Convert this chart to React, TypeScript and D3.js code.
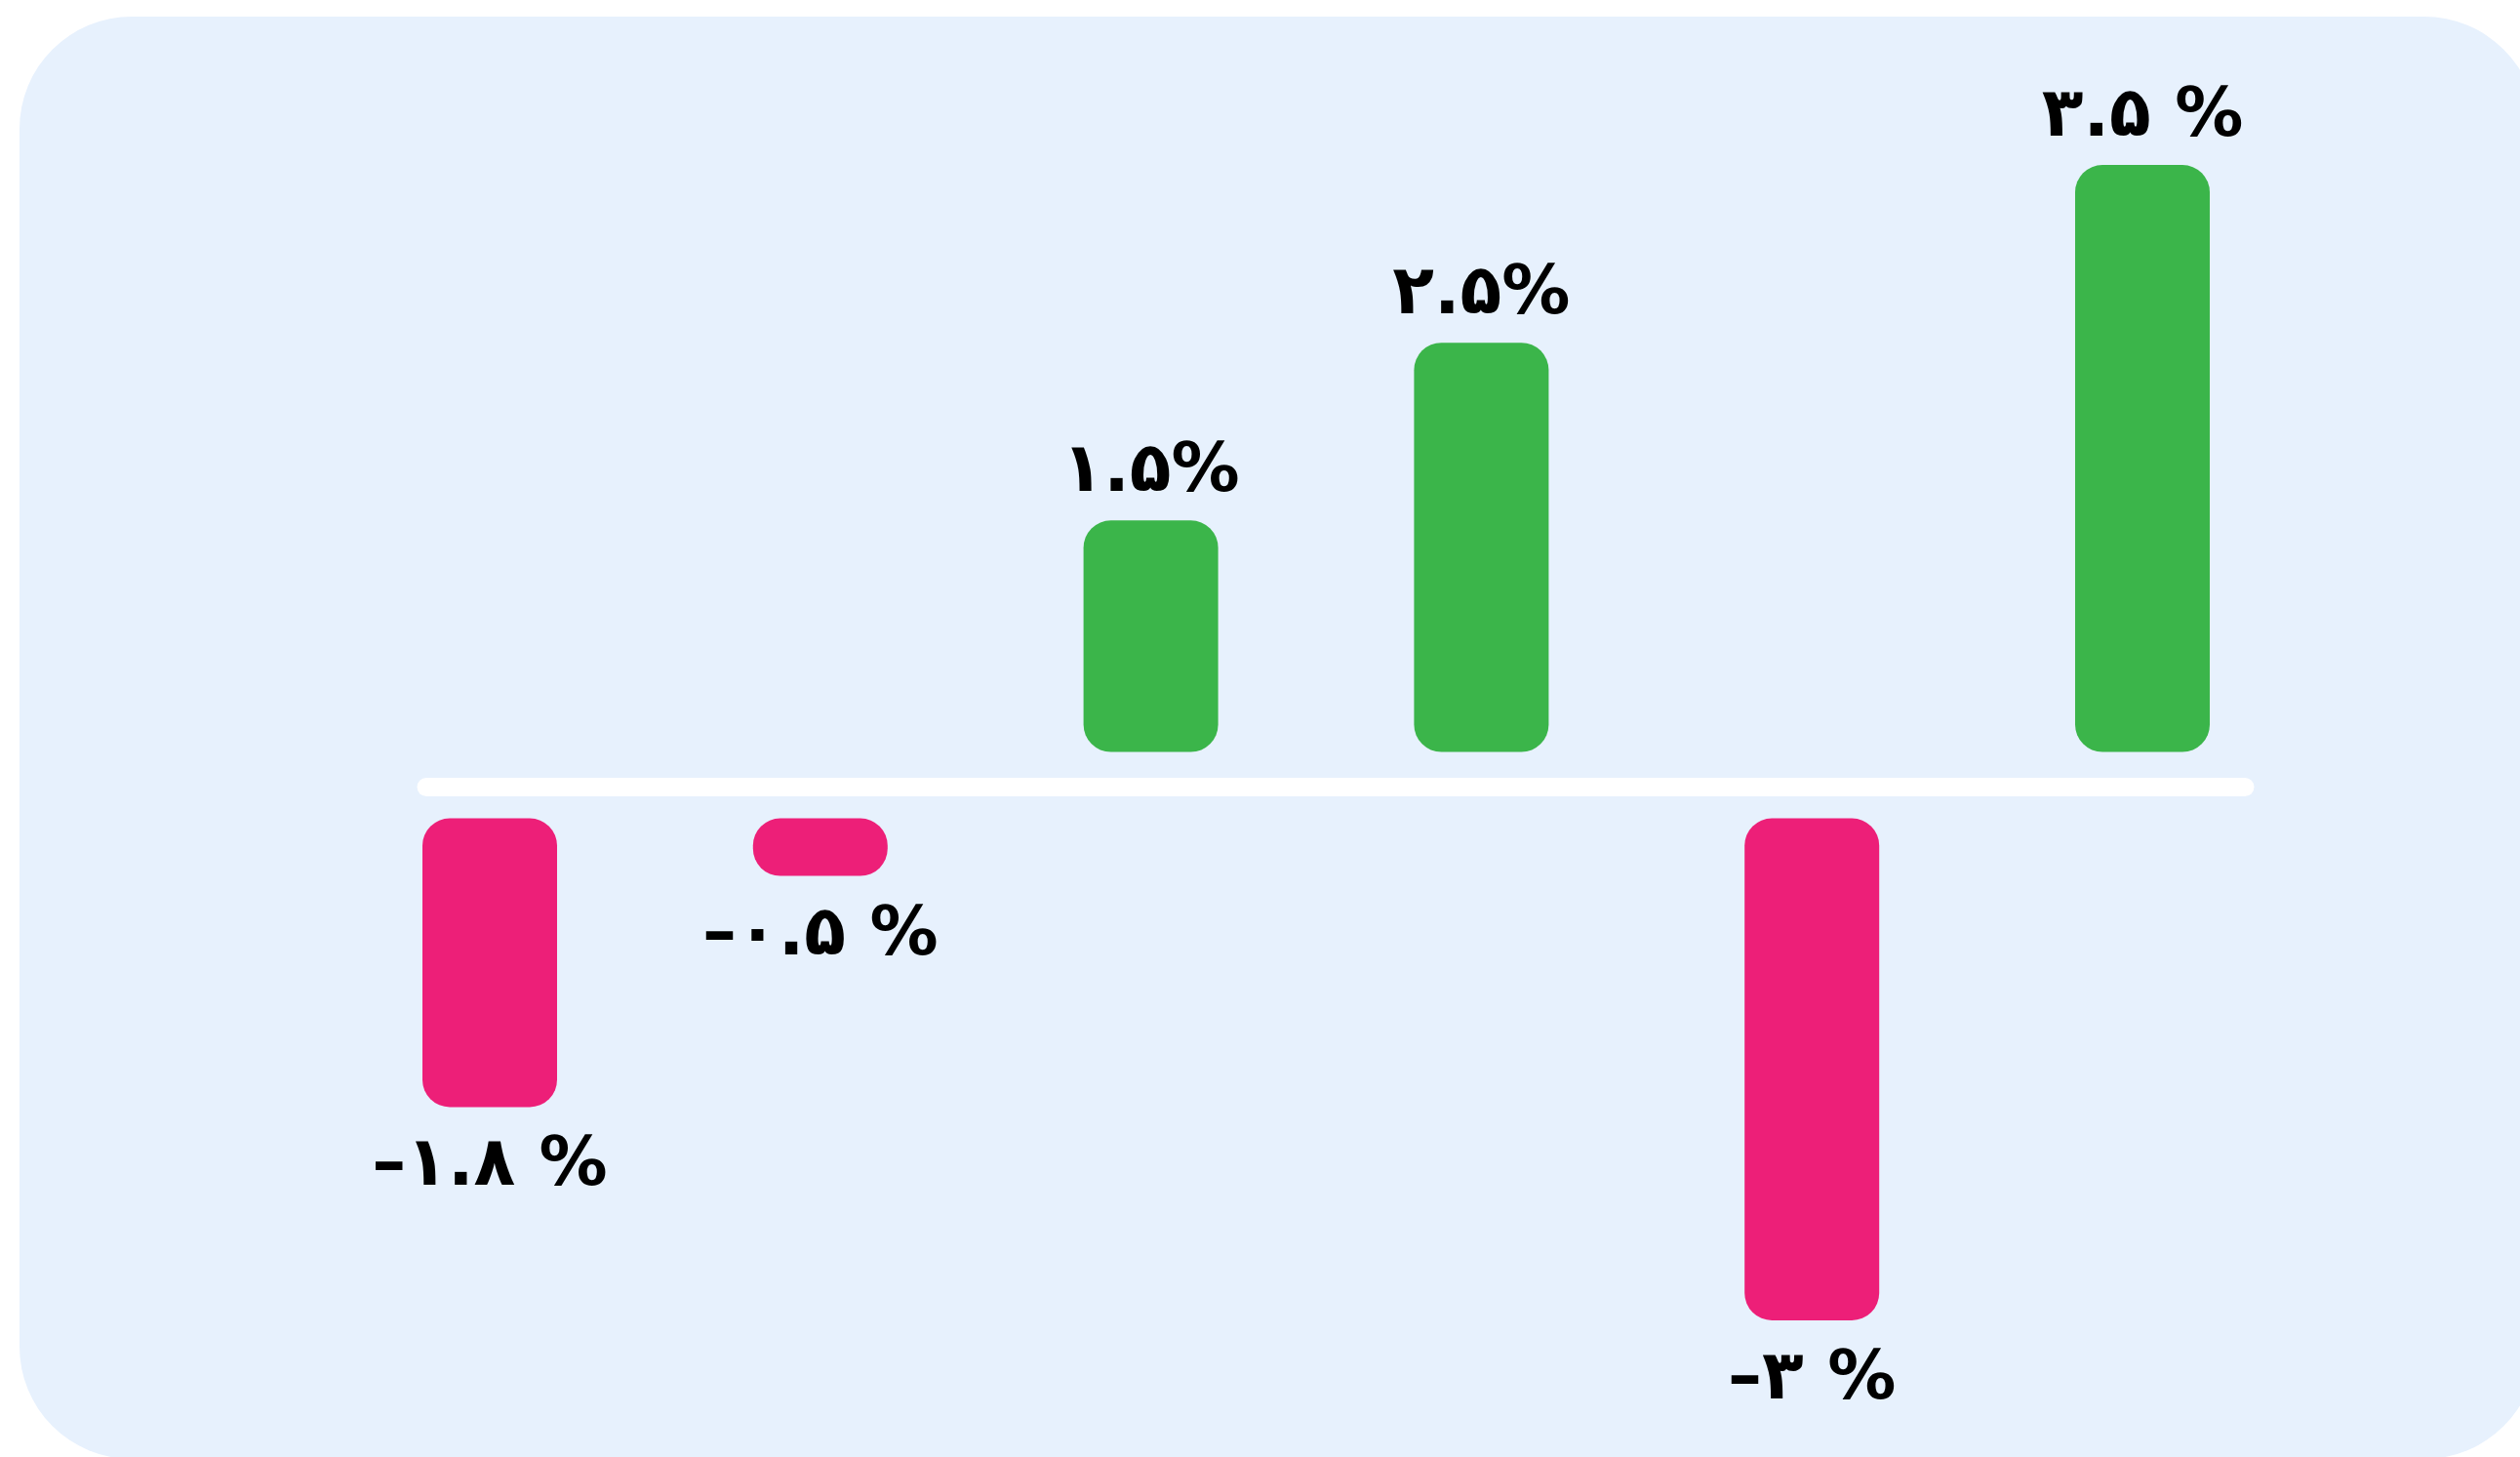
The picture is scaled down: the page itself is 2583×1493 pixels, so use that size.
import * as d3 from "d3";

const width = 2583, height = 1493;

// values
const categories = ["a", "b", "c", "d", "e", "f"];
const values = [-1.8, -0.5, 1.5, 2.5, -3, 3.5];
const labels = ["–۱.۸ %", "–۰.۵ %", "۱.۵%", "۲.۵%", "–۳ %", "۳.۵ %"];

const green = "#3BB54A", pink = "#ED1F78", card = "#E7F1FD";

const x = d3.scaleBand()
  .domain(categories)
  .range([433, 2265])
  .paddingInner(0.5927)
  .paddingOuter(0);

const y = d3.scaleLinear()
  .domain([-3, 3.5])
  .range([813 + 3 * 180, 813 - 3.5 * 184]);

const gapUp = 36, gapDown = 32;

const App = () => {
  const y0 = y(0);
  const bw = x.bandwidth();
  return (
    <svg width={width} height={height} viewBox={`0 0 ${width} ${height}`}
      style={{ position: "absolute", left: 0, top: 0, background: "#fff" }}>
      <rect x={20} y={17} width={2580} height={1478} rx={115} fill={card} />
      <line x1={x(categories[0])! + 4} x2={x(categories[5])! + bw + 36}
        y1={y0} y2={y0} stroke="#fff" strokeWidth={19} strokeLinecap="round" />
      {values.map((v, i) => {
        const top = v > 0 ? y(v) : y0 + gapDown;
        const bottom = v > 0 ? y0 - gapUp : y(v);
        const h = bottom - top;
        const cx = x(categories[i])! + bw / 2;
        const ty = v > 0 ? top - 30 : bottom + 80;
        return (
          <g key={i}>
            <rect x={x(categories[i])} y={top} width={bw} height={h}
              rx={Math.min(28, h / 2)} fill={v > 0 ? green : pink} />
            <text x={cx} y={ty} textAnchor="middle" direction="ltr"
              fontFamily="DejaVu Sans" fontWeight="bold" fontSize={70} fill="#000">
              {labels[i]}
            </text>
          </g>
        );
      })}
    </svg>
  );
};

export default App;
